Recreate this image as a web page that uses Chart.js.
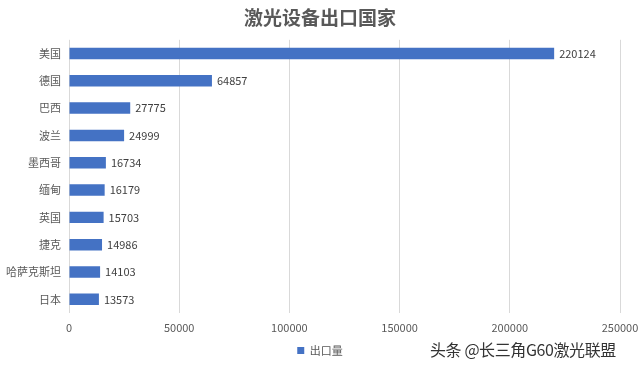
<!DOCTYPE html>
<html>
<head>
<meta charset="utf-8">
<script src="https://cdn.jsdelivr.net/npm/chart.js@4/dist/chart.umd.min.js"></script>
<style>
  html, body { margin: 0; padding: 0; background: #fff; }
  #wrap { position: relative; width: 640px; height: 366px; }
  #mark { position: absolute; left: 430px; top: 337px; font: 16px "Noto Sans CJK SC", sans-serif; color: #333;
          letter-spacing: -0.4px; text-shadow: 0 0 2px #fff, 0 0 2px #fff; white-space: nowrap; }
</style>
</head>
<body>
<div id="wrap">
  <canvas id="chart" width="640" height="366"></canvas>
  <div id="mark">头条 @长三角G60激光联盟</div>
</div>
<script>
const countries = ["美国", "德国", "巴西", "波兰", "墨西哥", "缅甸", "英国", "捷克", "哈萨克斯坦", "日本"];
const exports = [220124, 64857, 27775, 24999, 16734, 16179, 15703, 14986, 14103, 13573];
const xTicks = [0, 50000, 100000, 150000, 200000, 250000];

const FONT = '"Noto Sans CJK SC", "Noto Sans", sans-serif';

// angka di ujung batang
const valueLabels = {
  id: "valueLabels",
  afterDatasetsDraw(chart) {
    const ctx = chart.ctx;
    const meta = chart.getDatasetMeta(0);
    ctx.save();
    ctx.font = "11px " + FONT;
    ctx.fillStyle = "#404040";
    ctx.textBaseline = "middle";
    meta.data.forEach((bar, i) => {
      ctx.fillText(exports[i], bar.x + 5, bar.y);
    });
    ctx.restore();
  }
};

new Chart(document.getElementById("chart"), {
  type: "bar",
  data: {
    labels: countries,
    datasets: [{
      label: "出口量",
      data: exports,
      backgroundColor: "#4472C4",
      borderColor: "#4472C4",
      barPercentage: 0.7,
      categoryPercentage: 0.6
    }]
  },
  options: {
    indexAxis: "y",
    responsive: false,
    animation: false,
    layout: { padding: 0 },
    plugins: {
      title: {
        display: true,
        text: "激光设备出口国家",
        color: "#595959",
        font: { family: FONT, size: 19, weight: "bold" },
        padding: { top: 6, bottom: 11 }
      },
      legend: {
        position: "bottom",
        labels: {
          color: "#595959",
          font: { family: FONT, size: 11 },
          boxWidth: 7,
          boxHeight: 7,
          padding: 10
        }
      },
      tooltip: { enabled: false }
    },
    scales: {
      x: {
        min: 0,
        max: 250000,
        afterBuildTicks: axis => { axis.ticks = xTicks.map(v => ({ value: v })); },
        afterFit: axis => {
          axis.height = 22;
          axis.paddingLeft = 0;
          axis.paddingRight = 20;
        },
        grid: { color: "#d9d9d9", drawTicks: false },
        border: { display: false },
        ticks: {
          color: "#595959",
          font: { family: FONT, size: 11 },
          padding: 8,
          callback: v => String(v)
        }
      },
      y: {
        afterFit: axis => { axis.width = 69; },
        grid: { display: false, drawTicks: false },
        border: { display: false },
        ticks: { color: "#595959", font: { family: FONT, size: 11 }, padding: 8 }
      }
    }
  },
  plugins: [valueLabels]
});
</script>
</body>
</html>
